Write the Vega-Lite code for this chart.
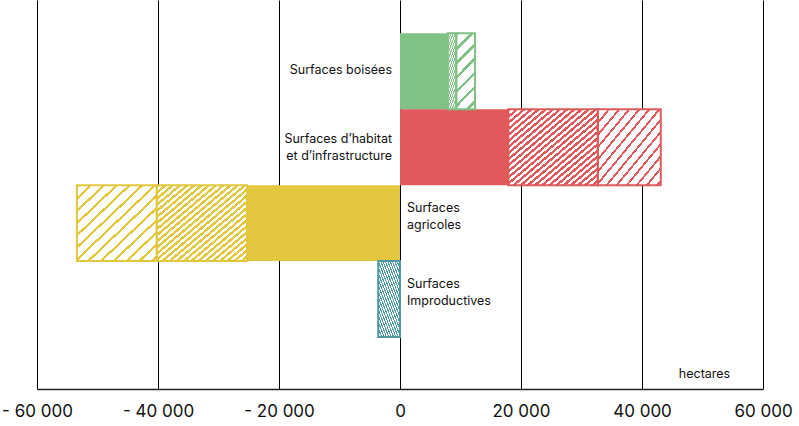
{
  "$schema": "https://vega.github.io/schema/vega-lite/v6.json",
  "width": 726,
  "height": 389,
  "autosize": "none",
  "padding": {"left": 37, "top": 0, "right": 36, "bottom": 37},
  "background": "white",
  "config": {"view": {"stroke": null}, "font": "Inter"},
  "datasets": {
    "bars": [
      {"cat": "Surfaces boisées", "type": "solid", "start": 0, "end": 7900},
      {"cat": "Surfaces boisées", "type": "dense", "start": 7900, "end": 9300},
      {"cat": "Surfaces boisées", "type": "sparse", "start": 9300, "end": 12400},
      {"cat": "Surfaces d’habitat et d’infrastructure", "type": "solid", "start": 0, "end": 17900},
      {"cat": "Surfaces d’habitat et d’infrastructure", "type": "dense", "start": 17900, "end": 32700},
      {"cat": "Surfaces d’habitat et d’infrastructure", "type": "sparse", "start": 32700, "end": 43100},
      {"cat": "Surfaces agricoles", "type": "solid", "start": 0, "end": -25300},
      {"cat": "Surfaces agricoles", "type": "dense", "start": -25300, "end": -40200},
      {"cat": "Surfaces agricoles", "type": "sparse", "start": -40200, "end": -53400},
      {"cat": "Surfaces Improductives", "type": "dense", "start": 0, "end": -3600}
    ],
    "labels": [
      {"cat": "Surfaces boisées", "label": "Surfaces boisées", "side": "left"},
      {"cat": "Surfaces d’habitat et d’infrastructure", "label": "Surfaces d’habitat\net d’infrastructure", "side": "left"},
      {"cat": "Surfaces agricoles", "label": "Surfaces\nagricoles", "side": "right"},
      {"cat": "Surfaces Improductives", "label": "Surfaces\nImproductives", "side": "right"}
    ]
  },
  "encoding": {
    "y": {
      "field": "cat",
      "type": "nominal",
      "scale": {
        "domain": ["Surfaces boisées", "Surfaces d’habitat et d’infrastructure", "Surfaces agricoles", "Surfaces Improductives"],
        "paddingInner": 0,
        "paddingOuter": 0.56,
        "align": 0.39
      },
      "axis": null
    }
  },
  "layer": [
    {
      "data": {"name": "bars"},
      "mark": {"type": "bar", "strokeWidth": 0},
      "encoding": {
        "x": {
          "field": "start",
          "type": "quantitative",
          "scale": {"domain": [-60000, 60000], "nice": false, "zero": false},
          "axis": {
            "values": [-60000, -40000, -20000, 0, 20000, 40000, 60000],
            "grid": true,
            "gridColor": "#000000",
            "gridWidth": 1,
            "gridOpacity": 1,
            "domainColor": "#222222",
            "domainWidth": 1.5,
            "ticks": false,
            "labelFlush": false,
            "labelOverlap": false,
            "labelFont": "Inter",
            "labelFontSize": 17,
            "labelColor": "#111111",
            "labelPadding": 14,
            "labelExpr": "(datum.value < 0 ? '- ' : '') + replace(format(abs(datum.value), ','), ',', ' ')",
            "title": "hectares",
            "titleFont": "Inter",
            "titleFontSize": 12.5,
            "titleFontWeight": "normal",
            "titleColor": "#111111",
            "titleX": 667,
            "titleY": -16,
            "titleBaseline": "middle",
            "titleAlign": "center"
          }
        },
        "x2": {"field": "end"},
        "color": {
          "field": "cat",
          "type": "nominal",
          "scale": {
            "domain": ["Surfaces boisées", "Surfaces d’habitat et d’infrastructure", "Surfaces agricoles", "Surfaces Improductives"],
            "range": ["#80C186", "#E0595B", "#E2C73F", "#4F97A1"]
          },
          "legend": null
        }
      }
    },
    {
      "data": {"name": "bars"},
      "transform": [{"filter": "datum.type == 'dense'"}],
      "mark": {
        "type": "bar",
        "strokeWidth": 0,
        "fill": {
          "gradient": "linear", "x1": 0, "y1": 0, "x2": 1, "y2": 1,
          "stops": [
            {"offset": 0, "color": "rgba(255,255,255,0)"}, {"offset": 0.02, "color": "rgba(255,255,255,0)"}, {"offset": 0.02, "color": "white"}, {"offset": 0.04, "color": "white"},
            {"offset": 0.04, "color": "rgba(255,255,255,0)"}, {"offset": 0.06, "color": "rgba(255,255,255,0)"}, {"offset": 0.06, "color": "white"}, {"offset": 0.08, "color": "white"},
            {"offset": 0.08, "color": "rgba(255,255,255,0)"}, {"offset": 0.1, "color": "rgba(255,255,255,0)"}, {"offset": 0.1, "color": "white"}, {"offset": 0.12, "color": "white"},
            {"offset": 0.12, "color": "rgba(255,255,255,0)"}, {"offset": 0.14, "color": "rgba(255,255,255,0)"}, {"offset": 0.14, "color": "white"}, {"offset": 0.16, "color": "white"},
            {"offset": 0.16, "color": "rgba(255,255,255,0)"}, {"offset": 0.18, "color": "rgba(255,255,255,0)"}, {"offset": 0.18, "color": "white"}, {"offset": 0.2, "color": "white"},
            {"offset": 0.2, "color": "rgba(255,255,255,0)"}, {"offset": 0.22, "color": "rgba(255,255,255,0)"}, {"offset": 0.22, "color": "white"}, {"offset": 0.24, "color": "white"},
            {"offset": 0.24, "color": "rgba(255,255,255,0)"}, {"offset": 0.26, "color": "rgba(255,255,255,0)"}, {"offset": 0.26, "color": "white"}, {"offset": 0.28, "color": "white"},
            {"offset": 0.28, "color": "rgba(255,255,255,0)"}, {"offset": 0.3, "color": "rgba(255,255,255,0)"}, {"offset": 0.3, "color": "white"}, {"offset": 0.32, "color": "white"},
            {"offset": 0.32, "color": "rgba(255,255,255,0)"}, {"offset": 0.34, "color": "rgba(255,255,255,0)"}, {"offset": 0.34, "color": "white"}, {"offset": 0.36, "color": "white"},
            {"offset": 0.36, "color": "rgba(255,255,255,0)"}, {"offset": 0.38, "color": "rgba(255,255,255,0)"}, {"offset": 0.38, "color": "white"}, {"offset": 0.4, "color": "white"},
            {"offset": 0.4, "color": "rgba(255,255,255,0)"}, {"offset": 0.42, "color": "rgba(255,255,255,0)"}, {"offset": 0.42, "color": "white"}, {"offset": 0.44, "color": "white"},
            {"offset": 0.44, "color": "rgba(255,255,255,0)"}, {"offset": 0.46, "color": "rgba(255,255,255,0)"}, {"offset": 0.46, "color": "white"}, {"offset": 0.48, "color": "white"},
            {"offset": 0.48, "color": "rgba(255,255,255,0)"}, {"offset": 0.5, "color": "rgba(255,255,255,0)"}, {"offset": 0.5, "color": "white"}, {"offset": 0.52, "color": "white"},
            {"offset": 0.52, "color": "rgba(255,255,255,0)"}, {"offset": 0.54, "color": "rgba(255,255,255,0)"}, {"offset": 0.54, "color": "white"}, {"offset": 0.56, "color": "white"},
            {"offset": 0.56, "color": "rgba(255,255,255,0)"}, {"offset": 0.58, "color": "rgba(255,255,255,0)"}, {"offset": 0.58, "color": "white"}, {"offset": 0.6, "color": "white"},
            {"offset": 0.6, "color": "rgba(255,255,255,0)"}, {"offset": 0.62, "color": "rgba(255,255,255,0)"}, {"offset": 0.62, "color": "white"}, {"offset": 0.64, "color": "white"},
            {"offset": 0.64, "color": "rgba(255,255,255,0)"}, {"offset": 0.66, "color": "rgba(255,255,255,0)"}, {"offset": 0.66, "color": "white"}, {"offset": 0.68, "color": "white"},
            {"offset": 0.68, "color": "rgba(255,255,255,0)"}, {"offset": 0.7, "color": "rgba(255,255,255,0)"}, {"offset": 0.7, "color": "white"}, {"offset": 0.72, "color": "white"},
            {"offset": 0.72, "color": "rgba(255,255,255,0)"}, {"offset": 0.74, "color": "rgba(255,255,255,0)"}, {"offset": 0.74, "color": "white"}, {"offset": 0.76, "color": "white"},
            {"offset": 0.76, "color": "rgba(255,255,255,0)"}, {"offset": 0.78, "color": "rgba(255,255,255,0)"}, {"offset": 0.78, "color": "white"}, {"offset": 0.8, "color": "white"},
            {"offset": 0.8, "color": "rgba(255,255,255,0)"}, {"offset": 0.82, "color": "rgba(255,255,255,0)"}, {"offset": 0.82, "color": "white"}, {"offset": 0.84, "color": "white"},
            {"offset": 0.84, "color": "rgba(255,255,255,0)"}, {"offset": 0.86, "color": "rgba(255,255,255,0)"}, {"offset": 0.86, "color": "white"}, {"offset": 0.88, "color": "white"},
            {"offset": 0.88, "color": "rgba(255,255,255,0)"}, {"offset": 0.9, "color": "rgba(255,255,255,0)"}, {"offset": 0.9, "color": "white"}, {"offset": 0.92, "color": "white"},
            {"offset": 0.92, "color": "rgba(255,255,255,0)"}, {"offset": 0.94, "color": "rgba(255,255,255,0)"}, {"offset": 0.94, "color": "white"}, {"offset": 0.96, "color": "white"},
            {"offset": 0.96, "color": "rgba(255,255,255,0)"}, {"offset": 0.98, "color": "rgba(255,255,255,0)"}, {"offset": 0.98, "color": "white"}, {"offset": 1, "color": "white"}
          ]
        }
      },
      "encoding": {
        "x": {"field": "start", "type": "quantitative"},
        "x2": {"field": "end"}
      }
    },
    {
      "data": {"name": "bars"},
      "transform": [{"filter": "datum.type == 'sparse' && datum.cat != 'Surfaces boisées'"}],
      "mark": {
        "type": "bar",
        "strokeWidth": 0,
        "fill": {
          "gradient": "linear", "x1": 0, "y1": 0, "x2": 1, "y2": 1,
          "stops": [
            {"offset": 0, "color": "rgba(255,255,255,0)"}, {"offset": 0.02, "color": "rgba(255,255,255,0)"}, {"offset": 0.02, "color": "white"}, {"offset": 0.08, "color": "white"},
            {"offset": 0.08, "color": "rgba(255,255,255,0)"}, {"offset": 0.1, "color": "rgba(255,255,255,0)"}, {"offset": 0.1, "color": "white"}, {"offset": 0.16, "color": "white"},
            {"offset": 0.16, "color": "rgba(255,255,255,0)"}, {"offset": 0.18, "color": "rgba(255,255,255,0)"}, {"offset": 0.18, "color": "white"}, {"offset": 0.24, "color": "white"},
            {"offset": 0.24, "color": "rgba(255,255,255,0)"}, {"offset": 0.26, "color": "rgba(255,255,255,0)"}, {"offset": 0.26, "color": "white"}, {"offset": 0.32, "color": "white"},
            {"offset": 0.32, "color": "rgba(255,255,255,0)"}, {"offset": 0.34, "color": "rgba(255,255,255,0)"}, {"offset": 0.34, "color": "white"}, {"offset": 0.4, "color": "white"},
            {"offset": 0.4, "color": "rgba(255,255,255,0)"}, {"offset": 0.42, "color": "rgba(255,255,255,0)"}, {"offset": 0.42, "color": "white"}, {"offset": 0.48, "color": "white"},
            {"offset": 0.48, "color": "rgba(255,255,255,0)"}, {"offset": 0.5, "color": "rgba(255,255,255,0)"}, {"offset": 0.5, "color": "white"}, {"offset": 0.56, "color": "white"},
            {"offset": 0.56, "color": "rgba(255,255,255,0)"}, {"offset": 0.58, "color": "rgba(255,255,255,0)"}, {"offset": 0.58, "color": "white"}, {"offset": 0.64, "color": "white"},
            {"offset": 0.64, "color": "rgba(255,255,255,0)"}, {"offset": 0.66, "color": "rgba(255,255,255,0)"}, {"offset": 0.66, "color": "white"}, {"offset": 0.72, "color": "white"},
            {"offset": 0.72, "color": "rgba(255,255,255,0)"}, {"offset": 0.74, "color": "rgba(255,255,255,0)"}, {"offset": 0.74, "color": "white"}, {"offset": 0.8, "color": "white"},
            {"offset": 0.8, "color": "rgba(255,255,255,0)"}, {"offset": 0.82, "color": "rgba(255,255,255,0)"}, {"offset": 0.82, "color": "white"}, {"offset": 0.88, "color": "white"},
            {"offset": 0.88, "color": "rgba(255,255,255,0)"}, {"offset": 0.9, "color": "rgba(255,255,255,0)"}, {"offset": 0.9, "color": "white"}, {"offset": 0.96, "color": "white"},
            {"offset": 0.96, "color": "rgba(255,255,255,0)"}, {"offset": 0.98, "color": "rgba(255,255,255,0)"}, {"offset": 0.98, "color": "white"}, {"offset": 1, "color": "white"}
          ]
        }
      },
      "encoding": {
        "x": {"field": "start", "type": "quantitative"},
        "x2": {"field": "end"}
      }
    },
    {
      "data": {"name": "bars"},
      "transform": [{"filter": "datum.type == 'sparse' && datum.cat == 'Surfaces boisées'"}],
      "mark": {
        "type": "bar",
        "strokeWidth": 0,
        "fill": {
          "gradient": "linear", "x1": 0, "y1": 0, "x2": 0.55, "y2": 2.2,
          "stops": [
            {"offset": 0, "color": "rgba(255,255,255,0)"}, {"offset": 0.02, "color": "rgba(255,255,255,0)"}, {"offset": 0.02, "color": "white"}, {"offset": 0.08, "color": "white"},
            {"offset": 0.08, "color": "rgba(255,255,255,0)"}, {"offset": 0.1, "color": "rgba(255,255,255,0)"}, {"offset": 0.1, "color": "white"}, {"offset": 0.16, "color": "white"},
            {"offset": 0.16, "color": "rgba(255,255,255,0)"}, {"offset": 0.18, "color": "rgba(255,255,255,0)"}, {"offset": 0.18, "color": "white"}, {"offset": 0.24, "color": "white"},
            {"offset": 0.24, "color": "rgba(255,255,255,0)"}, {"offset": 0.26, "color": "rgba(255,255,255,0)"}, {"offset": 0.26, "color": "white"}, {"offset": 0.32, "color": "white"},
            {"offset": 0.32, "color": "rgba(255,255,255,0)"}, {"offset": 0.34, "color": "rgba(255,255,255,0)"}, {"offset": 0.34, "color": "white"}, {"offset": 0.4, "color": "white"},
            {"offset": 0.4, "color": "rgba(255,255,255,0)"}, {"offset": 0.42, "color": "rgba(255,255,255,0)"}, {"offset": 0.42, "color": "white"}, {"offset": 0.48, "color": "white"},
            {"offset": 0.48, "color": "rgba(255,255,255,0)"}, {"offset": 0.5, "color": "rgba(255,255,255,0)"}, {"offset": 0.5, "color": "white"}, {"offset": 0.56, "color": "white"},
            {"offset": 0.56, "color": "rgba(255,255,255,0)"}, {"offset": 0.58, "color": "rgba(255,255,255,0)"}, {"offset": 0.58, "color": "white"}, {"offset": 0.64, "color": "white"},
            {"offset": 0.64, "color": "rgba(255,255,255,0)"}, {"offset": 0.66, "color": "rgba(255,255,255,0)"}, {"offset": 0.66, "color": "white"}, {"offset": 0.72, "color": "white"},
            {"offset": 0.72, "color": "rgba(255,255,255,0)"}, {"offset": 0.74, "color": "rgba(255,255,255,0)"}, {"offset": 0.74, "color": "white"}, {"offset": 0.8, "color": "white"},
            {"offset": 0.8, "color": "rgba(255,255,255,0)"}, {"offset": 0.82, "color": "rgba(255,255,255,0)"}, {"offset": 0.82, "color": "white"}, {"offset": 0.88, "color": "white"},
            {"offset": 0.88, "color": "rgba(255,255,255,0)"}, {"offset": 0.9, "color": "rgba(255,255,255,0)"}, {"offset": 0.9, "color": "white"}, {"offset": 0.96, "color": "white"},
            {"offset": 0.96, "color": "rgba(255,255,255,0)"}, {"offset": 0.98, "color": "rgba(255,255,255,0)"}, {"offset": 0.98, "color": "white"}, {"offset": 1, "color": "white"}
          ]
        }
      },
      "encoding": {
        "x": {"field": "start", "type": "quantitative"},
        "x2": {"field": "end"}
      }
    },
    {
      "data": {"name": "bars"},
      "transform": [{"filter": "datum.type != 'solid'"}],
      "mark": {"type": "bar", "filled": false, "strokeWidth": 2},
      "encoding": {
        "x": {"field": "start", "type": "quantitative"},
        "x2": {"field": "end"},
        "color": {"field": "cat", "type": "nominal", "legend": null}
      }
    },
    {
      "data": {"name": "labels"},
      "transform": [{"filter": "datum.side == 'left' && indexof(datum.label, '\\n') < 0"}],
      "mark": {"type": "text", "align": "right", "baseline": "middle", "dx": -8, "dy": -1, "fontSize": 12.5, "lineBreak": "\n", "lineHeight": 16.5, "color": "#111111", "font": "Inter"},
      "encoding": {
        "x": {"datum": 0, "type": "quantitative"},
        "text": {"field": "label"}
      }
    },
    {
      "data": {"name": "labels"},
      "transform": [{"filter": "datum.side == 'left' && indexof(datum.label, '\\n') >= 0"}],
      "mark": {"type": "text", "align": "right", "baseline": "middle", "dx": -8, "dy": -8, "fontSize": 12.5, "lineBreak": "\n", "lineHeight": 16.5, "color": "#111111", "font": "Inter"},
      "encoding": {
        "x": {"datum": 0, "type": "quantitative"},
        "text": {"field": "label"}
      }
    },
    {
      "data": {"name": "labels"},
      "transform": [{"filter": "datum.side == 'right'"}],
      "mark": {"type": "text", "align": "left", "baseline": "middle", "dx": 7, "dy": -15, "fontSize": 12.5, "lineBreak": "\n", "lineHeight": 16.5, "color": "#111111", "font": "Inter"},
      "encoding": {
        "x": {"datum": 0, "type": "quantitative"},
        "text": {"field": "label"}
      }
    }
  ]
}
